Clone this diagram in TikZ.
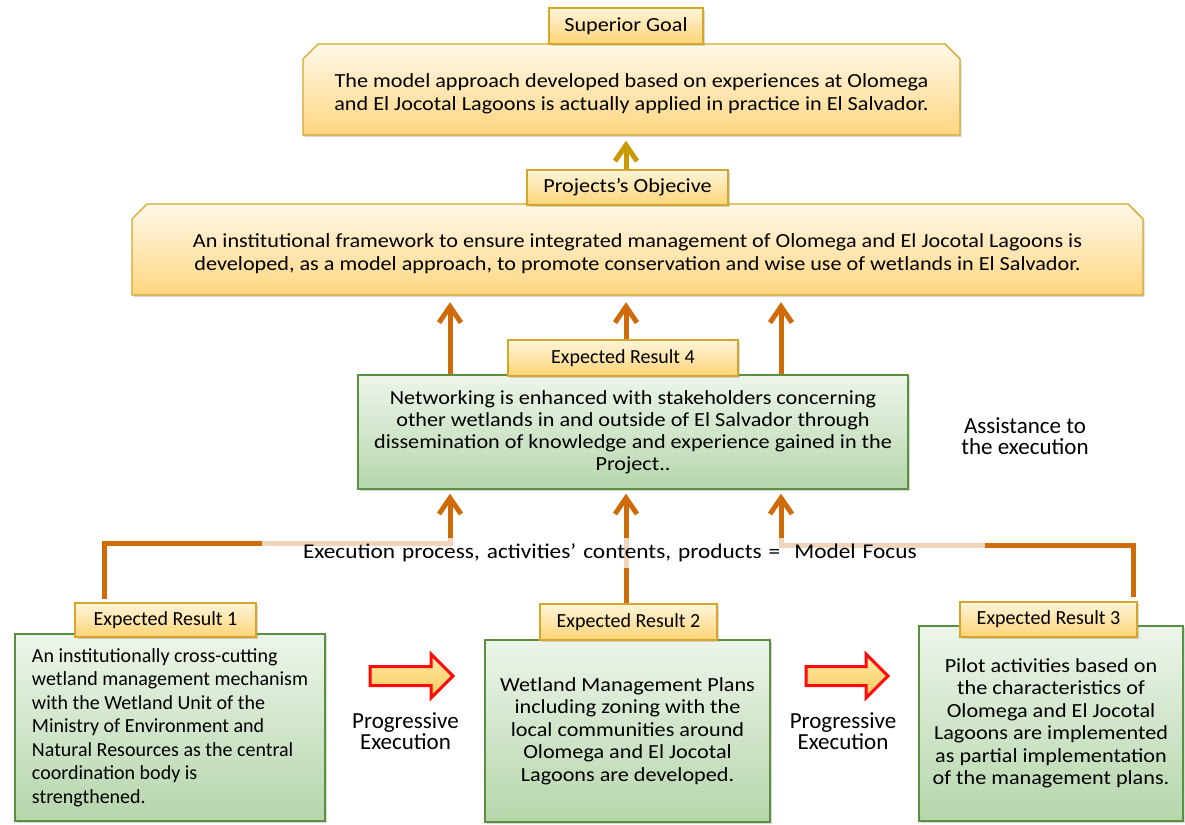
\documentclass[tikz,border=0pt]{standalone}
\usepackage{fontspec}
\setmainfont{Carlito}
\newfontfamily\widefont{Carlito}[FakeStretch=1.11]
\usetikzlibrary{shadows,arrows.meta,calc}

\definecolor{orng}{RGB}{208,107,10}
\definecolor{goldarr}{RGB}{201,154,6}
\definecolor{lblborder}{RGB}{214,166,40}
\definecolor{lbltop}{RGB}{255,245,218}
\definecolor{lblbot}{RGB}{253,212,118}
\definecolor{boxtop}{RGB}{255,248,234}
\definecolor{boxbot}{RGB}{255,214,128}
\definecolor{grtop}{RGB}{237,245,234}
\definecolor{grbot}{RGB}{181,214,171}
\definecolor{grborder}{RGB}{90,145,65}
\definecolor{redline}{RGB}{255,10,10}
\definecolor{arrtop}{RGB}{255,236,170}
\definecolor{arrbot}{RGB}{250,200,90}

\tikzset{
  shadowed/.style={drop shadow={opacity=0.3, shadow xshift=1.5pt, shadow yshift=-2pt}},
  lblbox/.style={draw=lblborder, line width=1.2pt, top color=lbltop, bottom color=lblbot,
    font=\fontsize{20}{23}\selectfont, inner sep=0pt, shadowed},
  widelbl/.style={lblbox, font=\widefont\fontsize{20}{23}\selectfont},
  greenbox/.style={draw=grborder, line width=1.2pt, top color=grtop, bottom color=grbot,
    font=\fontsize{20}{23.5}\selectfont, inner sep=0pt, align=center, shadowed},
  widegreen/.style={greenbox, font=\widefont\fontsize{20}{22.5}\selectfont},
  goldshape/.style={draw=lblborder, line width=1.4pt, top color=boxtop, bottom color=boxbot, shadowed},
  bodytext/.style={font=\widefont\fontsize{20}{23}\selectfont, align=center, inner sep=0pt},
  oarr/.style={draw=orng, line width=5pt, -{Straight Barb[length=16pt,width=22pt]}},
  garr/.style={draw=goldarr, line width=5pt, -{Straight Barb[length=16pt,width=22pt]}},
  blockarrow/.style={draw=redline, line width=3pt, top color=arrtop, bottom color=arrbot, line join=miter},
  sidetext/.style={font=\fontsize{23}{21.5}\selectfont, align=center, inner sep=0pt},
}

\begin{document}
\begin{tikzpicture}[x=1pt,y=-1pt]
\useasboundingbox (0,0) rectangle (1185,824);

% ---------- top box (Superior goal)
\path[goldshape] (303,59) -- (318,44) -- (945,44) -- (960,59) -- (960,135) -- (303,135) -- cycle;
\node[bodytext, minimum width=657pt, minimum height=91pt] (topbox) at (631.5,93.5)
  {The model approach developed based on experiences at Olomega\\and El Jocotal Lagoons is actually applied in practice in El Salvador.};

% ---------- objective box
\path[goldshape] (132,219) -- (147,204) -- (1128,204) -- (1143,219) -- (1143,295) -- (132,295) -- cycle;
\node[bodytext, minimum width=1011pt, minimum height=91pt] (objbox) at (637.5,253.5)
  {An institutional framework to ensure integrated management of Olomega and El Jocotal Lagoons is\\developed, as a model approach, to promote conservation and wise use of wetlands in El Salvador.};

% ---------- green boxes
\node[widegreen, font=\widefont\fontsize{20}{22}\selectfont, minimum width=550pt, minimum height=114pt] (er4box) at (633,432)
  {Networking is enhanced with stakeholders concerning\\other wetlands in and outside of El Salvador through\\dissemination of knowledge and experience gained in the\\Project..};
\node[greenbox, align=left, minimum width=310pt, minimum height=187pt] (er1box) at (170,727.5)
  {An institutionally cross-cutting\\wetland management mechanism\\with the Wetland Unit of the\\Ministry of Environment and\\Natural Resources as the central\\coordination body is\\strengthened.};
\node[widegreen, minimum width=285pt, minimum height=182pt] (er2box) at (627.5,731)
  {Wetland Management Plans\\including zoning with the\\local communities around\\Olomega and El Jocotal\\Lagoons are developed.};
\node[widegreen, minimum width=264pt, minimum height=195pt] (er3box) at (1051,723.5)
  {Pilot activities based on\\the characteristics of\\Olomega and El Jocotal\\Lagoons are implemented\\as partial implementation\\of the management plans.};

% ---------- labels
\node[widelbl, minimum width=154pt, minimum height=36pt] (sglab) at (626,26) {Superior Goal};
\node[widelbl, minimum width=201pt, minimum height=35pt] (polab) at (627.5,187.5) {Projects’s Objecive};
\node[lblbox, minimum width=230pt, minimum height=36pt] (er4lab) at (623,358) {Expected Result 4};
\node[lblbox, minimum width=181pt, minimum height=34pt] (er1lab) at (165.5,620) {Expected Result 1};
\node[lblbox, minimum width=177pt, minimum height=36pt] (er2lab) at (628.5,622) {Expected Result 2};
\node[lblbox, minimum width=177pt, minimum height=35pt] (er3lab) at (1048.5,619.5) {Expected Result 3};

% ---------- helper coordinates
\coordinate (xL) at (450,0);
\coordinate (xM) at (626,0);
\coordinate (xR) at (781,0);
\coordinate (cL) at (104,543);
\coordinate (cR) at (1133,545);

% ---------- arrows
\draw[garr, shorten >=1.5pt] (polab.north -| xM) -- (topbox.south -| xM);

\draw[oarr, shorten >=3pt] (er4box.north -| xL) -- (objbox.south -| xL);
\draw[oarr, shorten >=3pt] (er4lab.north -| xM) -- (objbox.south -| xM);
\draw[oarr, shorten >=3pt] (er4box.north -| xR) -- (objbox.south -| xR);

\draw[oarr, shorten <=3pt, shorten >=4pt] (er1lab.north -| cL) -- (cL) -| (er4box.south -| xL);
\draw[oarr, shorten >=4pt] (er2lab.north -| xM) -- (er4box.south -| xM);
\draw[oarr, shorten <=4pt, shorten >=4pt] (er3lab.north -| cR) -- (cR) -| (er4box.south -| xR);

% ---------- model focus text (with translucent backing)
\node[fill=white, fill opacity=0.72, text opacity=1, font=\widefont\fontsize{21}{24}\selectfont,
  inner xsep=41pt, inner ysep=0pt, text width=641pt, align=left, minimum height=30pt] (mf) at (623.5,553)
  {Execution process, activities’ contents, products =\ \ Model Focus};

% ---------- assistance text
\node[sidetext] (assist) at (1025,436) {Assistance to\\the execution};

% ---------- progressive execution block arrows
\path[blockarrow] (370,666.5) -- (431,666.5) -- (431,654) -- (453,676) -- (431,698) -- (431,685.5) -- (370,685.5) -- cycle;
\path[blockarrow] (806,666.5) -- (866,666.5) -- (866,654) -- (888,676) -- (866,698) -- (866,685.5) -- (806,685.5) -- cycle;
\node[sidetext] (prog1) at (405.5,731) {Progressive\\Execution};
\node[sidetext] (prog2) at (843,731) {Progressive\\Execution};
\end{tikzpicture}
\end{document}
